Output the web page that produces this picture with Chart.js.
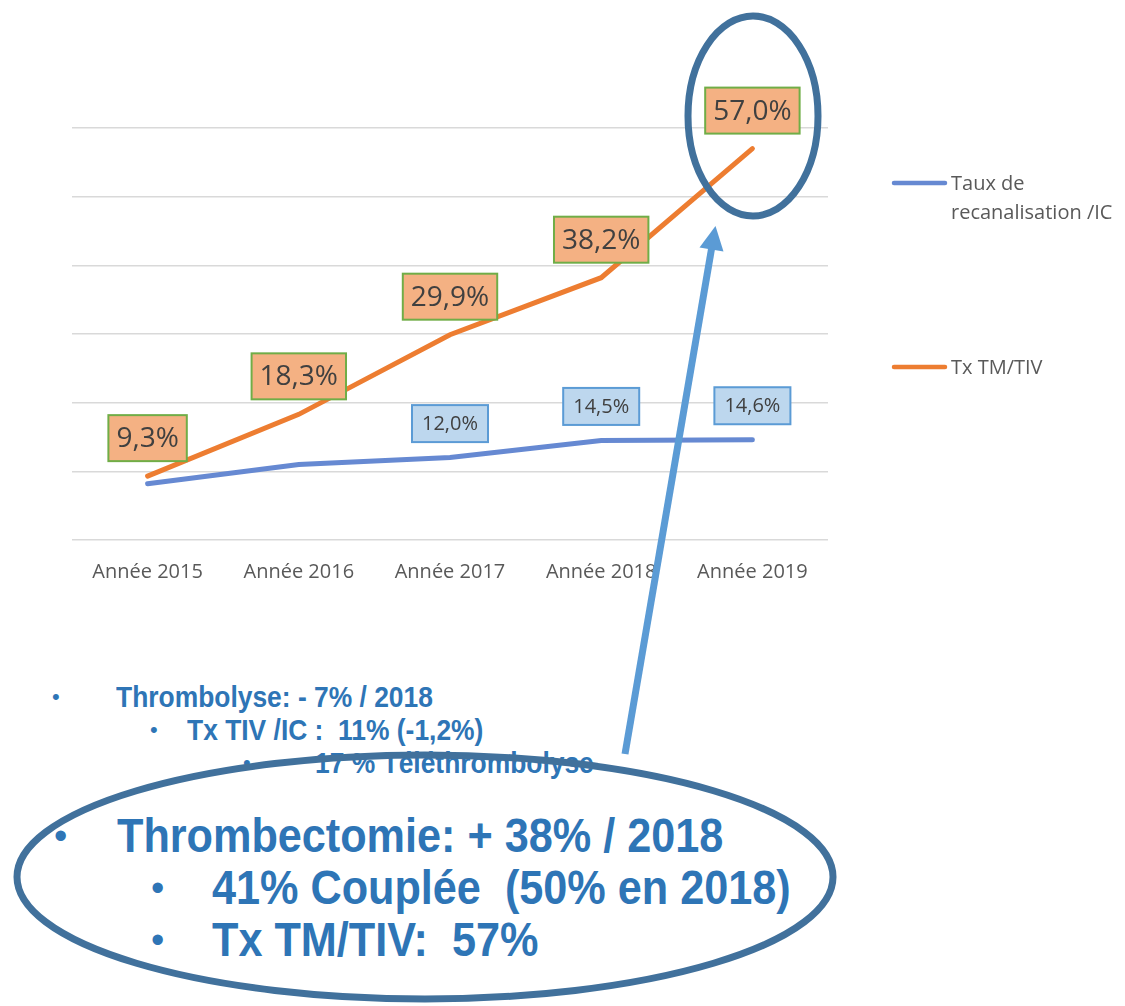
<!DOCTYPE html>
<html>
<head>
<meta charset="utf-8">
<script src="https://cdn.jsdelivr.net/npm/chart.js@4.4.1/dist/chart.umd.min.js"></script>
<style>
  html, body { margin: 0; padding: 0; background: #fff; }
  #page { position: relative; width: 1125px; height: 1006px; overflow: hidden; }
  #chartBox { position: absolute; left: 0; top: 0; width: 1125px; height: 600px; }
  #overlay { position: absolute; left: 0; top: 0; pointer-events: none; }
  .line {
    position: absolute; white-space: pre; color: #2E75B6;
    font-family: "Liberation Sans", Arial, sans-serif; font-weight: bold;
    transform: scaleX(0.88); transform-origin: left center;
  }
  .dot { position: absolute; color: #2E75B6; font-family: "Liberation Sans", Arial, sans-serif; }
  .small { font-size: 30px; line-height: 34px; }
  .big { font-size: 48px; line-height: 52px; }
  .line.big { transform: scaleX(0.90); }
</style>
</head>
<body>
<div id="page">
  <div id="chartBox"><canvas id="chart"></canvas></div>

  <!-- bullet text under the big ellipse -->
  <div class="dot small" style="left:52px; top:680px; font-size:22px;">•</div>
  <div class="line small" style="left:116px; top:680px;">Thrombolyse: - 7% / 2018</div>
  <div class="dot small" style="left:150px; top:713px; font-size:22px;">•</div>
  <div class="line small" style="left:187px; top:713px;">Tx TIV /IC :  11% (-1,2%)</div>
  <div class="dot small" style="left:243px; top:746px; font-size:22px;">•</div>
  <div class="line small" style="left:315px; top:746px;">17 % Téléthrombolyse</div>

  <div class="dot big" style="left:54px; top:810px; font-size:38px;">•</div>
  <div class="line big" style="left:117px; top:810px;">Thrombectomie: + 38% / 2018</div>
  <div class="dot big" style="left:151px; top:862px; font-size:38px;">•</div>
  <div class="line big" style="left:212px; top:862px;">41% Couplée  (50% en 2018)</div>
  <div class="dot big" style="left:151px; top:914px; font-size:38px;">•</div>
  <div class="line big" style="left:212px; top:914px;">Tx TM/TIV:  57%</div>

  <svg id="overlay" width="1125" height="1006">
    <ellipse cx="753" cy="116" rx="65" ry="100" fill="none" stroke="#41719C" stroke-width="7"/>
    <ellipse cx="425" cy="877" rx="408" ry="122" fill="none" stroke="#41719C" stroke-width="7"/>
    <line x1="625" y1="754" x2="712" y2="246" stroke="#5B9BD5" stroke-width="7"/>
    <polygon points="715.5,226 723.5,251.5 699.5,247.5" fill="#5B9BD5"/>
  </svg>
</div>

<script>
const years = ["Année 2015", "Année 2016", "Année 2017", "Année 2018", "Année 2019"];
const recanalisation = [8.2, 11.0, 12.0, 14.5, 14.6];
const txTmTiv = [9.3, 18.3, 29.9, 38.2, 57.0];
const recanalisationShown = [false, false, true, true, true];
const txTmTivShown = [true, true, true, true, true];
const yTicks = [0, 10, 20, 30, 40, 50, 60];

const fmt = (v) => v.toFixed(1).replace(".", ",") + "%";

// boxed data labels, drawn above each point
const boxLabels = {
  id: "boxLabels",
  afterDatasetsDraw(chart) {
    const ctx = chart.ctx;
    chart.data.datasets.forEach((ds, di) => {
      const meta = chart.getDatasetMeta(di);
      const st = ds.boxStyle;
      meta.data.forEach((pt, i) => {
        if (!ds.shown[i]) return;
        const text = fmt(ds.data[i]);
        ctx.save();
        ctx.font = st.size + "px 'Open Sans'";
        const w = ctx.measureText(text).width + st.pad * 2;
        const h = st.h;
        const cx = pt.x, cy = pt.y - st.off;
        ctx.fillStyle = st.fill;
        ctx.fillRect(cx - w / 2, cy - h / 2, w, h);
        ctx.strokeStyle = st.border;
        ctx.lineWidth = 2;
        ctx.strokeRect(cx - w / 2, cy - h / 2, w, h);
        ctx.fillStyle = "#404040";
        ctx.textAlign = "center";
        ctx.textBaseline = "middle";
        ctx.fillText(text, cx, cy + 1);
        ctx.restore();
      });
    });
  }
};

// legend on the right, items far apart
const sideLegend = {
  id: "sideLegend",
  afterDraw(chart) {
    const ctx = chart.ctx;
    const ys = [183, 367];
    chart.data.datasets.forEach((ds, di) => {
      const y = ys[di];
      ctx.save();
      ctx.strokeStyle = ds.borderColor;
      ctx.lineWidth = 4.5;
      ctx.lineCap = "round";
      ctx.beginPath();
      ctx.moveTo(894, y);
      ctx.lineTo(945, y);
      ctx.stroke();
      ctx.font = "20px 'Open Sans'";
      ctx.fillStyle = "#595959";
      ctx.textBaseline = "middle";
      // wrap label within 170px
      const words = ds.label.split(" ");
      const lines = [];
      let cur = "";
      words.forEach((w) => {
        const t = cur ? cur + " " + w : w;
        if (ctx.measureText(t).width > 170 && cur) { lines.push(cur); cur = w; }
        else cur = t;
      });
      lines.push(cur);
      lines.forEach((l, k) => ctx.fillText(l, 951, y + 1 + k * 29));
      ctx.restore();
    });
  }
};

new Chart(document.getElementById("chart"), {
  type: "line",
  data: {
    labels: years,
    datasets: [
      {
        label: "Taux de recanalisation /IC",
        data: recanalisation,
        shown: recanalisationShown,
        borderColor: "#6689D2",
        borderWidth: 5,
        borderCapStyle: "round",
        pointRadius: 0,
        tension: 0,
        boxStyle: { size: 20, pad: 10, h: 37, off: 34, fill: "#BDD7EE", border: "#5B9BD5" }
      },
      {
        label: "Tx TM/TIV",
        data: txTmTiv,
        shown: txTmTivShown,
        borderColor: "#ED7D31",
        borderWidth: 5,
        borderCapStyle: "round",
        pointRadius: 0,
        tension: 0,
        boxStyle: { size: 28, pad: 8, h: 46, off: 38, fill: "#F4B183", border: "#70AD47" }
      }
    ]
  },
  options: {
    responsive: true,
    maintainAspectRatio: false,
    animation: false,
    layout: { padding: { left: 72, right: 297, top: 128, bottom: 0 } },
    plugins: { legend: { display: false }, tooltip: { enabled: false } },
    scales: {
      x: {
        offset: true,
        grid: { display: false },
        border: { display: false },
        ticks: { color: "#595959", font: { family: "Open Sans", size: 20 }, padding: 12 },
        afterFit: (s) => { s.height = 60; }
      },
      y: {
        min: yTicks[0],
        max: yTicks[yTicks.length - 1],
        afterBuildTicks: (s) => { s.ticks = yTicks.map((v) => ({ value: v })); },
        ticks: { display: false },
        grid: { color: "#D9D9D9", lineWidth: 1.5, drawTicks: false },
        border: { display: false },
        afterFit: (s) => { s.width = 0; }
      }
    }
  },
  plugins: [boxLabels, sideLegend]
});
</script>
</body>
</html>
